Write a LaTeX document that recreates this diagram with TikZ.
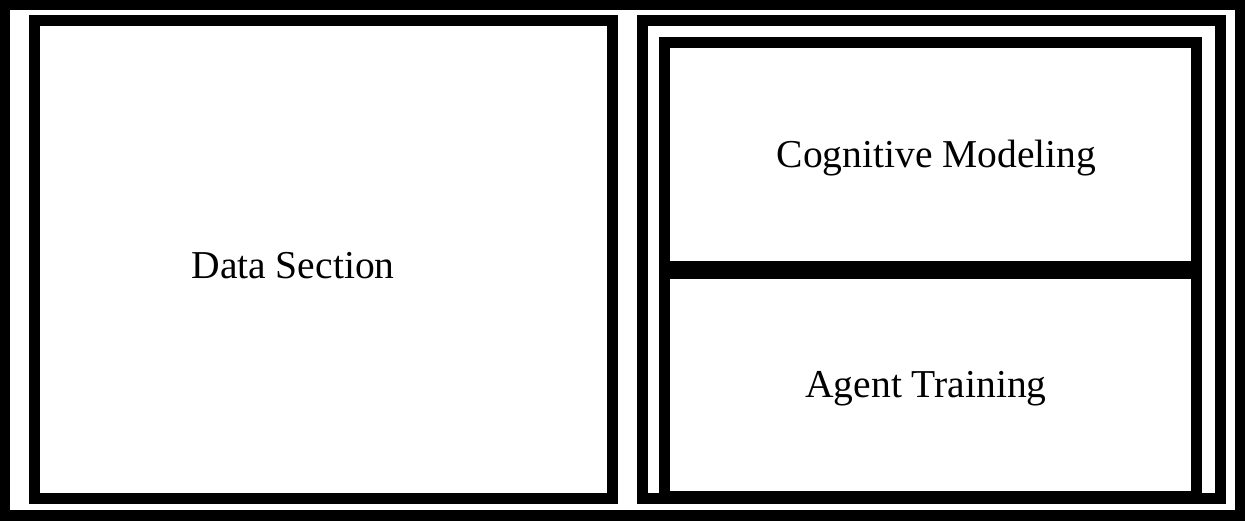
\documentclass[tikz,border=0pt]{standalone}
\usepackage{fontspec}
\setmainfont{Liberation Serif}
\begin{document}
\begin{tikzpicture}[x=0.02cm,y=-0.02cm,
  frame/.style={draw=black,line width=0.22cm,fill=white},
  lbl/.style={anchor=base,inner sep=0pt,font=\fontsize{22.5}{27}\selectfont}]
\useasboundingbox (0,0) rectangle (1245,521);
\fill[black] (0,0) rectangle (1245,521);
\fill[white] (10,10) rectangle (1235,509.5);
% left box
\draw[frame] (34.5,20.5) rectangle (612.5,498.5);
% right box
\draw[frame] (642.5,20.5) rectangle (1220.5,498.5);
% inner box
\draw[frame] (664.5,42.5) rectangle (1196.5,496.5);
% divider
\fill[black] (670,261) rectangle (1191,279);
\node[lbl] (data) at (293,278.3) {Data Section};
\node[lbl] (cog) at (936.5,167.5) {Cognitive Modeling};
\node[lbl] (agent) at (926,397.7) {Agent Training};
\end{tikzpicture}
\end{document}
